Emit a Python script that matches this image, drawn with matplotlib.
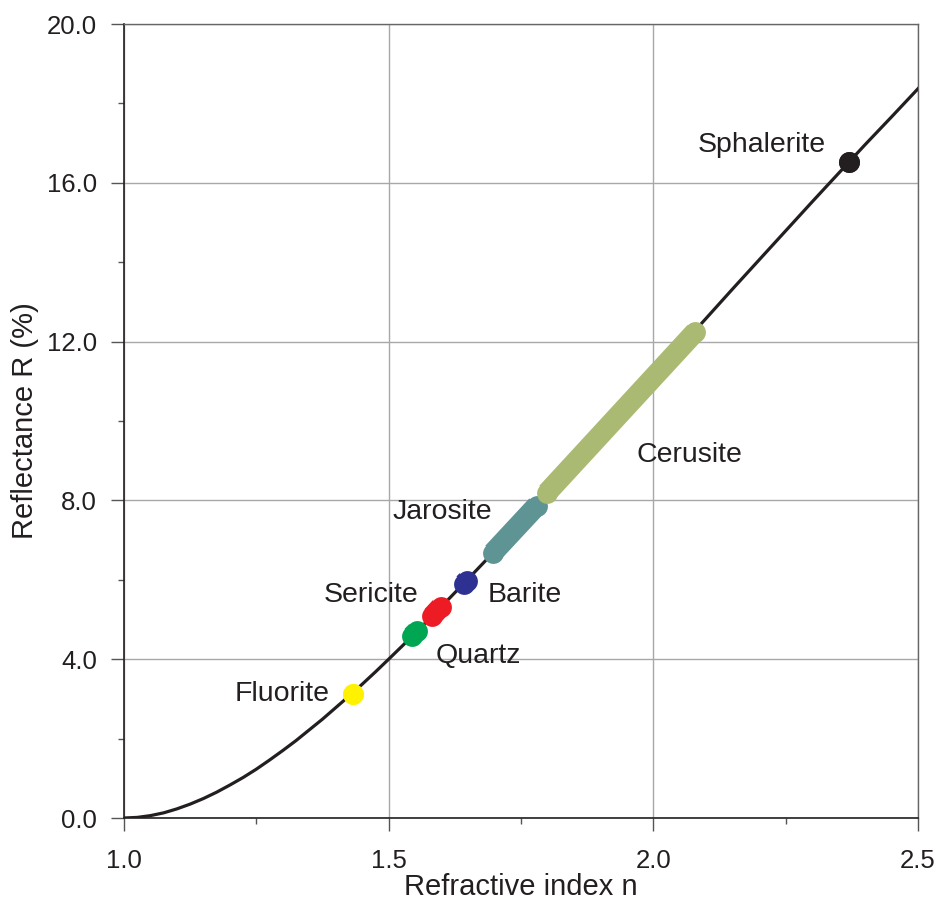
import numpy as np
from matplotlib import pyplot as plt
from matplotlib.ticker import FormatStrFormatter, MultipleLocator

# reflectance curve (denser where it bends)
n_curve = [1.000, 1.025, 1.050, 1.075, 1.100, 1.125, 1.150, 1.175, 1.200, 1.225,
           1.250, 1.275, 1.300, 1.325, 1.350, 1.375, 1.400, 1.425, 1.450, 1.475,
           1.50, 1.55, 1.60, 1.65, 1.70, 1.75, 1.80, 1.85, 1.90, 1.95, 2.00,
           2.05, 2.10, 2.15, 2.20, 2.25, 2.30, 2.35, 2.40, 2.45, 2.50]
R_curve = [0.000, 0.015, 0.06, 0.13, 0.23, 0.35, 0.49, 0.65, 0.83, 1.02,
           1.23, 1.46, 1.70, 1.95, 2.22, 2.49, 2.78, 3.07, 3.37, 3.68,
           4.00, 4.65, 5.33, 6.02, 6.72, 7.44, 8.16, 8.90, 9.63, 10.37, 11.11,
           11.85, 12.59, 13.33, 14.06, 14.79, 15.52, 16.24, 16.96, 17.66, 18.37]

# minerals: index range and reflectance range
minerals = ['Fluorite', 'Quartz', 'Sericite', 'Barite', 'Jarosite', 'Cerusite', 'Sphalerite']
n_low = [1.432, 1.544, 1.582, 1.642, 1.697, 1.799, 2.370]
n_high = [1.432, 1.553, 1.598, 1.648, 1.780, 2.079, 2.370]
R_low = [3.12, 4.58, 5.08, 5.90, 6.68, 8.19, 16.52]
R_high = [3.12, 4.70, 5.31, 5.98, 7.87, 12.24, 16.52]
colors = ['#FFF200', '#00A651', '#ED1C24', '#2E3192', '#5F9494', '#ABBA72', '#231F20']

# label positions
label_x = [1.298, 1.669, 1.467, 1.758, 1.601, 2.069, 2.205]
label_y = [3.12, 4.08, 5.61, 5.61, 7.70, 9.14, 16.95]

plt.rcParams['font.family'] = ['Liberation Sans', 'DejaVu Sans']

fig = plt.figure(figsize=(9.38, 9.02), dpi=100)
ax = fig.add_axes([124 / 938, 84 / 902, 794 / 938, 794 / 902])

ax.plot(n_curve, R_curve, color='#231F20', lw=2.3, zorder=3)

for i in range(len(minerals)):
    ax.plot([n_low[i], n_high[i]], [R_low[i], R_high[i]], color=colors[i],
            lw=15, marker='o', ms=15, mew=0, solid_capstyle='butt', zorder=4)
    ax.text(label_x[i], label_y[i], minerals[i], fontsize=20.5, color='#231F20',
            ha='center', va='center', zorder=5)

ax.set_xlim(1.0, 2.5)
ax.set_ylim(0.0, 20.0)
ax.xaxis.set_major_locator(MultipleLocator(0.5))
ax.xaxis.set_minor_locator(MultipleLocator(0.25))
ax.yaxis.set_major_locator(MultipleLocator(4))
ax.yaxis.set_minor_locator(MultipleLocator(2))
ax.xaxis.set_major_formatter(FormatStrFormatter('%.1f'))
ax.yaxis.set_major_formatter(FormatStrFormatter('%.1f'))

ax.grid(True, which='major', color='#A8A8A8', lw=1.0, zorder=0)
ax.tick_params(which='major', length=9.4, width=1.0, labelsize=18.5, color='#555555',
               labelcolor='#231F20')
ax.tick_params(axis='y', which='major', pad=10)
ax.tick_params(axis='x', which='major', pad=13)
ax.tick_params(which='minor', length=4.5, width=1.0, color='#555555')

for side in ['left', 'bottom']:
    ax.spines[side].set_color('#231F20')
    ax.spines[side].set_linewidth(1.2)
for side in ['top', 'right']:
    ax.spines[side].set_color('#666666')
    ax.spines[side].set_linewidth(1.0)

ax.set_xlabel('Refractive index n', fontsize=21, color='#231F20', labelpad=0)
ax.set_ylabel('Reflectance R (%)', fontsize=21, color='#231F20', labelpad=6)

fig.savefig('out.png', dpi=100)
